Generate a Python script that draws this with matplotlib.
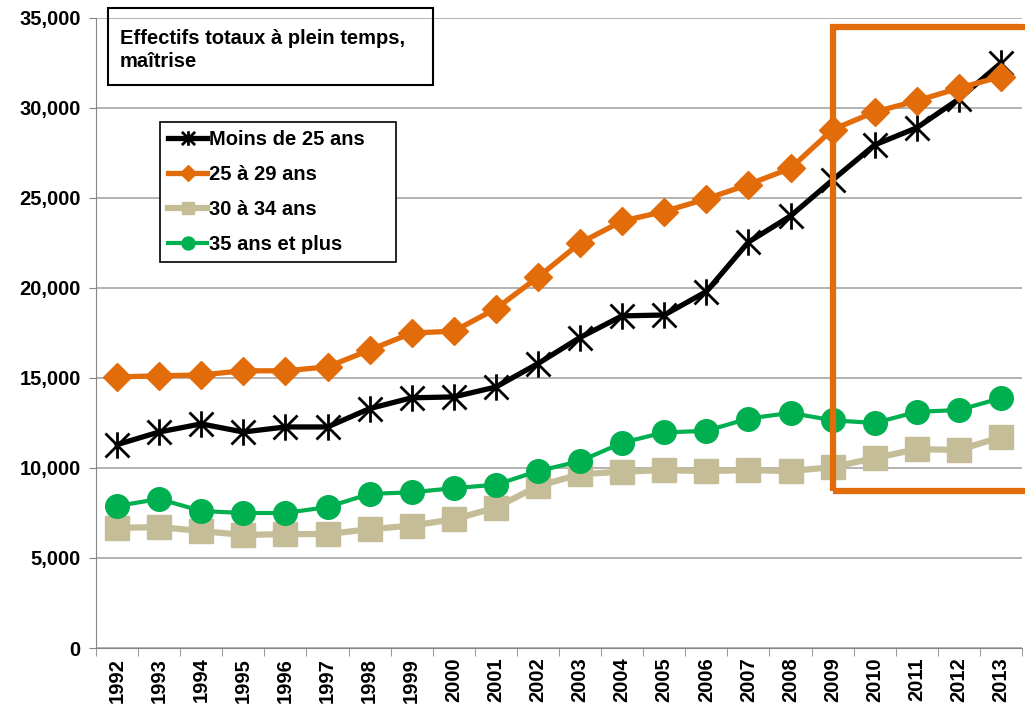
import numpy as np
import matplotlib.pyplot as plt
from matplotlib.patches import Rectangle
from matplotlib.path import Path

plt.rcParams['font.family'] = ['Liberation Sans', 'DejaVu Sans']
plt.rcParams['font.weight'] = 'bold'

years = [str(y) for y in range(1992, 2014)]
moins_25 = [11300, 12000, 12450, 12000, 12280, 12280, 13300, 13900, 13950, 14500, 15800,
            17250, 18450, 18500, 19800, 22550, 24000, 26000, 27950, 28900, 30500, 32500]
ans_25_29 = [15060, 15120, 15170, 15400, 15400, 15620, 16550, 17500, 17600, 18850, 20600,
             22500, 23720, 24250, 24950, 25750, 26650, 28800, 29780, 30400, 31100, 31750]
ans_30_34 = [6670, 6720, 6500, 6280, 6330, 6330, 6600, 6800, 7150, 7800, 9000,
             9650, 9800, 9880, 9830, 9880, 9830, 10050, 10550, 11050, 11000, 11720]
ans_35_plus = [7890, 8280, 7610, 7500, 7500, 7830, 8560, 8650, 8880, 9070, 9830,
               10380, 11400, 11980, 12060, 12750, 13060, 12650, 12500, 13120, 13220, 13880]

orange = '#E36C0A'
tan = '#C4BD97'
green = '#00B050'

# excel-like star: an X plus a vertical stroke
star = Path([(-0.5, -0.5), (0.5, 0.5), (-0.5, 0.5), (0.5, -0.5), (0, -0.55), (0, 0.55)],
            [Path.MOVETO, Path.LINETO, Path.MOVETO, Path.LINETO, Path.MOVETO, Path.LINETO])

fig = plt.figure(figsize=(10.25, 7.11), dpi=100)
ax = fig.add_axes([96/1025, 1-648/711, (1022-96)/1025, (648-18)/711])

x = np.arange(len(years))
ax.plot(x, moins_25, color='black', lw=3.8, marker=star, ms=19, mew=2,
        label='Moins de 25 ans', zorder=3)
ax.plot(x, ans_25_29, color=orange, lw=3.8, marker='D', ms=14, label='25 à 29 ans', zorder=4)
ax.plot(x, ans_30_34, color=tan, lw=4.5, marker='s', ms=17, label='30 à 34 ans', zorder=5)
ax.plot(x, ans_35_plus, color=green, lw=3, marker='o', ms=17, label='35 ans et plus', zorder=6)

ax.set_xlim(-0.5, len(years) - 0.5)
ax.set_ylim(0, 35000)
ax.set_yticks(np.arange(0, 35001, 5000))
ax.set_yticklabels([f'{v:,}' for v in range(0, 35001, 5000)], fontsize=14.5, fontweight='bold')
ax.set_xticks(x)
ax.set_xticklabels(years, rotation=90, fontsize=14.5, fontweight='bold')
ax.set_xticks(np.arange(-0.5, len(years)), minor=True)
ax.tick_params(axis='x', which='major', length=0, pad=7)
ax.tick_params(axis='x', which='minor', length=6, color='#868686')
ax.tick_params(axis='y', length=5, color='#868686', pad=6)
ax.grid(axis='y', color='#A6A6A6', lw=1.2)
ax.set_axisbelow(True)
for s in ['top', 'right']:
    ax.spines[s].set_visible(False)
for s in ['left', 'bottom']:
    ax.spines[s].set_color('#868686')

# orange highlight frame
ax.add_patch(Rectangle((17.0, 8700), 5.5, 34500 - 8700, fill=False, edgecolor=orange,
                       lw=4.5, clip_on=False, zorder=7))

# title box
fig.patches.append(Rectangle((108/1025, 1-85/711), (433-108)/1025, 77/711, fill=False,
                             edgecolor='black', lw=1.5, transform=fig.transFigure, zorder=8))
fig.text(120/1025, 1-29/711, 'Effectifs totaux à plein temps,\nmaîtrise', ha='left', va='top',
         fontsize=14.5, fontweight='bold', linespacing=1.25, zorder=9)

handles, labels = ax.get_legend_handles_labels()
leg = fig.legend(handles, labels, mode='expand',
                 loc='upper left', bbox_to_anchor=(160/1025, 1-262/711, 236/1025, 140/711),
                 borderaxespad=0,
                 fancybox=False, edgecolor='black', framealpha=1, markerscale=0.55,
                 handlelength=1.9, handletextpad=0.1, labelspacing=0.78, borderpad=0.42,
                 prop={'size': 14.5, 'weight': 'bold'})
leg.get_frame().set_linewidth(1.2)

fig.savefig('out.png', dpi=100)
